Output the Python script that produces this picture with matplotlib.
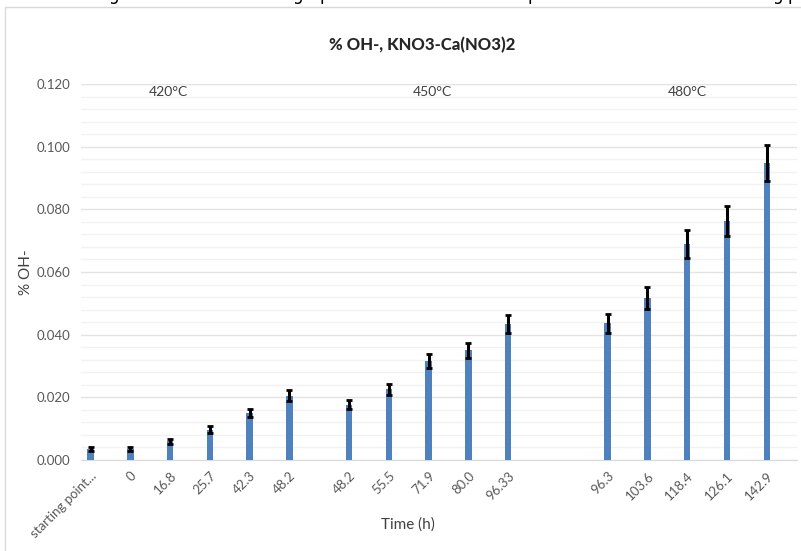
import matplotlib
matplotlib.use("Agg")
import matplotlib.pyplot as plt
from matplotlib.patches import Rectangle
from matplotlib.ticker import MultipleLocator, FormatStrFormatter

plt.rcParams['font.family'] = ['Lato', 'DejaVu Sans']

# category labels and their slots on the axis (gaps between temperature groups)
labels = ['starting point...', '0', '16.8', '25.7', '42.3', '48.2',
          '48.2', '55.5', '71.9', '80.0', '96.33',
          '96.3', '103.6', '118.4', '126.1', '142.9']
slots = [0, 1, 2, 3, 4, 5,
         6.5, 7.5, 8.5, 9.5, 10.5,
         13, 14, 15, 16, 17]
oh = [0.0035, 0.0035, 0.0060, 0.0097, 0.0149, 0.0205,
      0.0177, 0.0226, 0.0315, 0.0351, 0.0434,
      0.0436, 0.0517, 0.0689, 0.0764, 0.0948]
err = [0.0005, 0.0005, 0.0008, 0.0010, 0.0013, 0.0017,
       0.0014, 0.0018, 0.0022, 0.0024, 0.0028,
       0.0030, 0.0035, 0.0045, 0.0048, 0.0057]
temps = ['420°C', '450°C', '480°C']
temp_x = [1.95, 8.6, 15.0]

W, H = 801, 551
fig = plt.figure(figsize=(W / 100, H / 100), dpi=100)

# bits of the text line cut off above the chart
for px, ch in [(113, 'g'), (297, 'g'), (325, 'p'), (533, 'p'), (777, 'g'), (793, 'p')]:
    fig.text(px / W, 1.0, ch, fontsize=12, ha='center', va='baseline',
             color='black', family='DejaVu Sans')

# chart area border
fig.patches.append(Rectangle((5 / W, -0.1), 1.2, 1.1 - 7 / H, transform=fig.transFigure,
                             fill=False, edgecolor='#d9d9d9', linewidth=1.0))

ax = fig.add_axes([81 / W, (H - 460) / H, (797 - 81) / W, (460 - 84) / H])

ax.bar(slots, oh, width=0.16, color='#4F81BD', zorder=3)
ax.errorbar(slots, oh, yerr=err, fmt='none', ecolor='black', elinewidth=2.2,
            capsize=2.5, capthick=2, zorder=4)

ax.set_xlim(-0.24, 17.76)
ax.set_ylim(0, 0.12)
ax.yaxis.set_major_locator(MultipleLocator(0.02))
ax.yaxis.set_minor_locator(MultipleLocator(0.004))
ax.yaxis.set_major_formatter(FormatStrFormatter('%.3f'))
ax.grid(axis='y', which='major', color='#e3e3e3', linewidth=1.0, zorder=0)
ax.grid(axis='y', which='minor', color='#f2f2f2', linewidth=1.0, zorder=0)

ax.set_xticks(slots)
ax.set_xticklabels(labels, rotation=45, ha='right', va='top', rotation_mode='anchor',
                   fontsize=9.5, color='#595959')
ax.tick_params(axis='x', length=0, pad=7)
ax.tick_params(axis='y', which='both', length=0, labelsize=9.5, labelcolor='#595959', pad=8)

for s in ['top', 'right', 'left']:
    ax.spines[s].set_visible(False)
ax.spines['bottom'].set_color('#d9d9d9')

for t, x in zip(temps, temp_x):
    ax.text(x, 0.1175, t, ha='center', va='center', fontsize=10, color='#404040')

fig.text(422 / W, 1 - 45 / H, '% OH-, KNO3-Ca(NO3)2', fontsize=12, fontweight='black',
         color='#262626', ha='center', va='center')
fig.text(26 / W, 1 - 272 / H, '% OH-', fontsize=11, color='#404040', rotation=90,
         ha='center', va='center')
fig.text(408 / W, 1 - 525 / H, 'Time (h)', fontsize=11, color='#404040',
         ha='center', va='center')

fig.savefig('out.png', dpi=100)
